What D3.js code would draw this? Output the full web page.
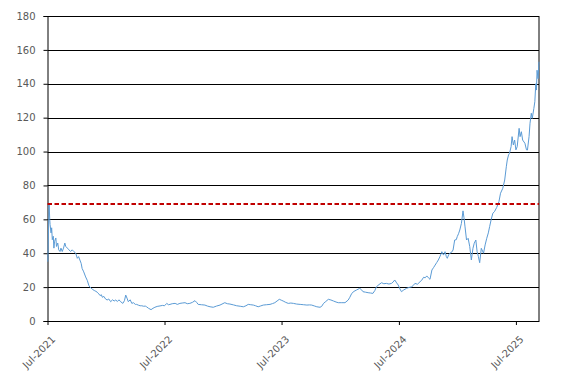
<!DOCTYPE html>
<html>
<head>
<meta charset="utf-8">
<script src="https://cdn.jsdelivr.net/npm/d3@7"></script>
<style>
  body { margin: 0; background: #fff; }
  .chart text { font-family: "DejaVu Sans", sans-serif; font-size: 10px; fill: #595959; }
</style>
</head>
<body>
<div class="chart"></div>
<script>
// price series
var dates = [
  '2021-07-02','2021-07-06','2021-07-08','2021-07-09','2021-07-12','2021-07-14','2021-07-16','2021-07-19','2021-07-21','2021-07-23',
  '2021-07-27','2021-07-29','2021-08-02','2021-08-05','2021-08-09','2021-08-12','2021-08-16','2021-08-20','2021-08-24','2021-08-27',
  '2021-09-01','2021-09-06','2021-09-11','2021-09-16','2021-09-21','2021-09-27','2021-10-02','2021-10-06','2021-10-10','2021-10-14',
  '2021-10-17','2021-10-22','2021-10-28','2021-11-02','2021-11-07','2021-11-10','2021-11-14','2021-11-18','2021-11-24','2021-11-29',
  '2021-12-03','2021-12-08','2021-12-12','2021-12-16','2021-12-19','2021-12-24','2021-12-29',
  '2022-01-03','2022-01-08','2022-01-14','2022-01-20','2022-01-25','2022-01-30','2022-02-04','2022-02-09','2022-02-14','2022-02-21',
  '2022-02-26','2022-03-02','2022-03-06','2022-03-10','2022-03-16','2022-03-21','2022-03-26','2022-04-01','2022-04-05','2022-04-11',
  '2022-04-16','2022-04-21','2022-04-27','2022-05-02','2022-05-06','2022-05-12','2022-05-20','2022-05-26','2022-06-01','2022-06-08',
  '2022-06-17','2022-06-25','2022-07-01','2022-07-08','2022-07-13','2022-07-18','2022-07-25','2022-08-03','2022-08-10','2022-08-18',
  '2022-08-25','2022-09-03','2022-09-10','2022-09-18','2022-09-26','2022-10-04','2022-10-09','2022-10-14','2022-10-24','2022-11-04',
  '2022-11-12','2022-11-20','2022-11-30','2022-12-10','2022-12-21',
  '2023-01-05','2023-01-13','2023-01-21','2023-02-01','2023-02-11','2023-02-22','2023-03-04','2023-03-12','2023-03-19','2023-03-27',
  '2023-04-04','2023-04-11','2023-04-19','2023-04-27','2023-05-05','2023-05-15','2023-05-26','2023-06-03','2023-06-10','2023-06-17',
  '2023-06-24','2023-06-30','2023-07-06','2023-07-14','2023-07-22','2023-07-30','2023-08-07','2023-08-17','2023-08-28','2023-09-08',
  '2023-09-18','2023-09-26','2023-10-03','2023-10-11','2023-10-19','2023-10-29','2023-11-03','2023-11-09','2023-11-16','2023-11-24',
  '2023-12-02','2023-12-10','2023-12-18','2023-12-25',
  '2024-01-05','2024-01-15','2024-01-25','2024-01-30','2024-02-05','2024-02-12','2024-02-20','2024-03-01','2024-03-06','2024-03-11',
  '2024-03-19','2024-03-27','2024-04-04','2024-04-11','2024-04-17','2024-04-22','2024-04-30','2024-05-08','2024-05-15','2024-05-23',
  '2024-05-31','2024-06-08','2024-06-13','2024-06-18','2024-06-24','2024-06-29','2024-07-04','2024-07-09','2024-07-16','2024-07-25',
  '2024-08-02','2024-08-10','2024-08-15','2024-08-20','2024-08-28','2024-09-05','2024-09-10','2024-09-16','2024-09-21','2024-09-26',
  '2024-10-01','2024-10-06','2024-10-12','2024-10-17','2024-10-22','2024-10-27','2024-11-01','2024-11-06','2024-11-12','2024-11-17',
  '2024-11-22','2024-11-26','2024-11-29','2024-12-03','2024-12-07','2024-12-12','2024-12-17','2024-12-22','2024-12-27','2024-12-30',
  '2025-01-03','2025-01-07','2025-01-12','2025-01-17','2025-01-20','2025-01-23','2025-01-28','2025-02-02','2025-02-07','2025-02-12',
  '2025-02-17','2025-02-21','2025-02-26','2025-03-02','2025-03-06','2025-03-10','2025-03-15','2025-03-22','2025-03-27','2025-04-01',
  '2025-04-06','2025-04-10','2025-04-15','2025-04-20','2025-04-25','2025-05-02','2025-05-09','2025-05-14','2025-05-21','2025-05-27',
  '2025-06-01','2025-06-04','2025-06-08','2025-06-11','2025-06-16','2025-06-19','2025-06-23','2025-06-27','2025-07-01','2025-07-05',
  '2025-07-11','2025-07-14','2025-07-18','2025-07-22','2025-07-29','2025-08-03','2025-08-06','2025-08-11','2025-08-14','2025-08-18',
  '2025-08-21','2025-08-26','2025-08-29','2025-09-01','2025-09-03','2025-09-05','2025-09-08','2025-09-11'
]
var prices = [
  35, 69, 60, 57, 52, 55, 48, 50, 43, 47,
  49, 44, 46, 42, 41, 43, 41, 43, 46, 44,
  43, 42, 41, 42, 41, 40, 37, 38, 36, 34,
  31, 29, 26, 24, 21, 20, 19.5, 18.7, 18, 17.5,
  17, 16, 15, 15.5, 14, 14.5, 13,
  12.4, 13, 11.4, 12.5, 11.8, 12.4, 11.5, 12.5, 11.4, 10.4,
  12, 15.3, 13.5, 11.4, 12.5, 10.4, 10.8, 9.8, 9.8, 9.3,
  9, 9, 8.7, 8.8, 8.4, 7.5, 6.7, 7.5, 8.1, 8.6,
  8.9, 9.2, 9, 10.4, 9.6, 9.8, 10.2, 10.4, 9.8, 10.4,
  10.6, 10.8, 10.2, 10.4, 11, 12, 11, 9.8, 9.6, 9.4,
  8.8, 8.4, 8.1, 8.8, 9.4,
  10.8, 10.2, 10, 9.5, 9, 8.7, 8.4, 9, 9.8, 9.6,
  9.4, 9, 8.4, 8.9, 9.4, 9.6, 9.8, 10.3, 10.8, 11.8,
  12.8, 12.3, 11.8, 11, 10.4, 10.6, 10.4, 10, 9.8, 9.6,
  9.4, 9.5, 9.4, 8.9, 8.4, 8.1, 8.6, 10.4, 11.5, 12.8,
  12.4, 11.8, 11.2, 10.8,
  10.8, 10.8, 12.4, 14, 16.3, 17.5, 18.3, 19.3, 18.5, 17.3,
  17, 16.7, 16.5, 16.3, 18, 20.2, 21.5, 22.6, 22, 22.2,
  21.8, 22.2, 23, 24.2, 22.5, 21.2, 19, 17.3, 18.3, 19.3,
  19.8, 20.2, 21, 22.2, 21.7, 23.2, 24, 25.8, 25.5, 26.6,
  25.5, 24.6, 30.1, 31.5, 33, 34.5, 36, 38, 40.9, 38.9,
  40.9, 38, 37, 39, 40, 40.5, 41.9, 47.8, 48, 49.8,
  51.5, 53.7, 57.6, 65, 61, 56, 47.8, 48.8, 43.9, 36,
  42.9, 45.9, 47.8, 40.9, 38, 34.4, 42.9, 40, 44.9, 48.8,
  52, 55.7, 60, 63.6, 64.5, 67, 70.4, 75.4, 78.3, 83.2,
  91, 95, 98, 99, 102.9, 108.8, 103.9, 106.8, 101, 102.9,
  113.7, 108.8, 111.7, 106.8, 104.9, 101, 100.9, 108.8, 116.7, 122.6,
  119.6, 125.5, 129.4, 140, 136.3, 148, 143, 153
]
var yTicks = [0, 20, 40, 60, 80, 100, 120, 140, 160, 180]
var xTicks = ['2021-07-01', '2022-07-01', '2023-07-01', '2024-07-01', '2025-07-01']
var xStart = '2021-07-01'
var xEnd = '2025-09-11'
var refLevel = 69

var W = 567, H = 383
var margin = {top: 16, right: 28, bottom: 62, left: 47.5}
var width = W - margin.left - margin.right
var height = H - margin.top - margin.bottom

var parse = d3.timeParse('%Y-%m-%d')
var fmt = d3.timeFormat('%b-%Y')

var svg = d3.select('.chart')
  .append('svg')
  .attr('width', W)
  .attr('height', H)

var g = svg.append('g')
  .attr('transform', 'translate(' + margin.left + ',' + margin.top + ')')

var x = d3.scaleTime()
  .domain([parse(xStart), parse(xEnd)])
  .range([0, width])

var y = d3.scaleLinear()
  .domain([0, 180])
  .range([height, 0])

// horizontal grid
g.selectAll('.grid')
  .data(yTicks.slice(1))
  .enter().append('line')
  .attr('class', 'grid')
  .attr('x1', 0)
  .attr('x2', width)
  .attr('y1', function(d) { return Math.round(y(d)) + 0.5 })
  .attr('y2', function(d) { return Math.round(y(d)) + 0.5 })
  .attr('stroke', '#000')
  .attr('stroke-width', 1)

// right border
g.append('line')
  .attr('x1', width).attr('x2', width)
  .attr('y1', 0).attr('y2', height)
  .attr('stroke', '#000')

// y axis
var yAxis = g.append('g')
  .call(d3.axisLeft(y).tickValues(yTicks).tickSize(4).tickPadding(8))
yAxis.select('.domain').attr('stroke', '#000')
yAxis.selectAll('.tick line').attr('stroke', '#000')
yAxis.selectAll('text').style('font-size', '10px')

// x axis
var xAxis = g.append('g')
  .attr('transform', 'translate(0,' + height + ')')
  .call(d3.axisBottom(x).tickValues(xTicks.map(parse)).tickFormat(fmt).tickSize(4).tickSizeOuter(0))
xAxis.select('.domain').attr('stroke', '#000')
xAxis.selectAll('.tick line').attr('stroke', '#000')
xAxis.selectAll('text')
  .style('text-anchor', 'end')
  .style('font-size', '10px')
  .attr('dx', '0')
  .attr('dy', '0')
  .attr('transform', 'translate(3,14) rotate(-45)')

// price line
var series = dates.map(function(d, i) { return {date: parse(d), value: prices[i]} })

g.append('path')
  .datum(series)
  .attr('fill', 'none')
  .attr('stroke', '#5b9bd5')
  .attr('stroke-width', 1)
  .attr('stroke-linejoin', 'round')
  .attr('d', d3.line()
    .x(function(d) { return x(d.date) })
    .y(function(d) { return y(d.value) }))

// reference level
g.append('line')
  .attr('x1', 0)
  .attr('x2', width)
  .attr('y1', y(refLevel))
  .attr('y2', y(refLevel))
  .attr('stroke', '#c00000')
  .attr('stroke-width', 2)
  .attr('stroke-dasharray', '4.5,2.5')
</script>
</body>
</html>
